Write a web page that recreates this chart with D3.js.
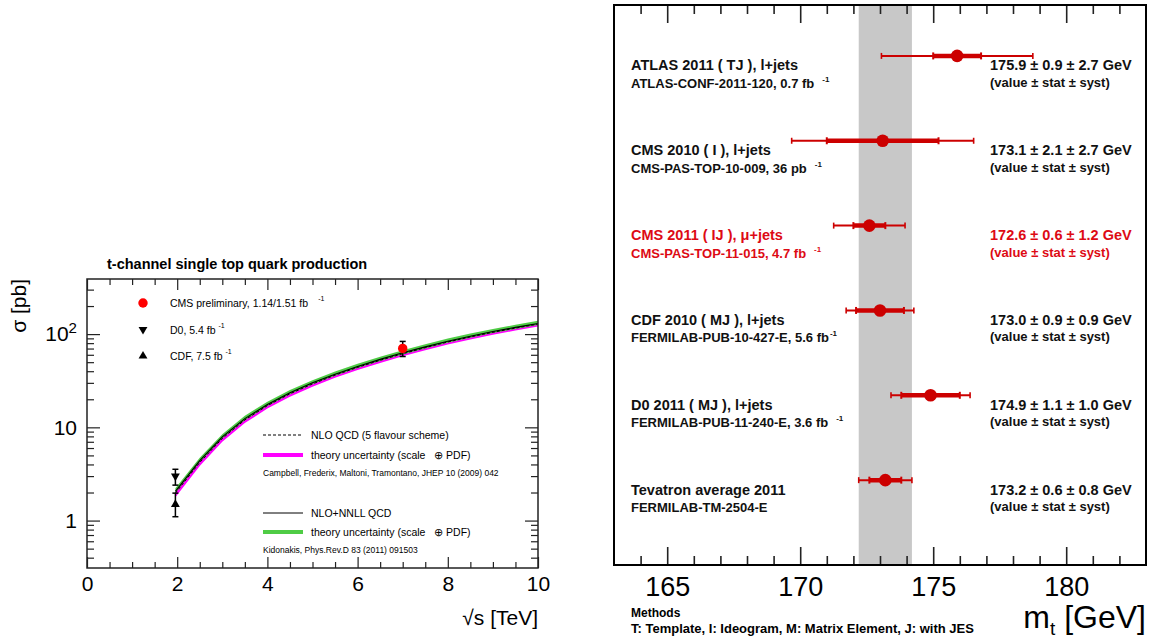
<!DOCTYPE html>
<html>
<head>
<meta charset="utf-8">
<script src="https://cdn.jsdelivr.net/npm/d3@7"></script>
<style>
body { margin: 0; background: #fff; }
text { font-family: "Liberation Sans", Arial, Helvetica, sans-serif; }
</style>
</head>
<body>
<div id="vis"></div>
<script>
// ---------- left panel data: t-channel single top cross section
const sqrtS  = [1.96, 2.5, 3, 3.5, 4, 4.5, 5, 5.5, 6, 6.5, 7, 7.5, 8, 8.5, 9, 9.5, 10];
const nnll   = [2.06, 4.4, 7.9, 12.4, 17.6, 23.5, 30.0, 37.2, 45.0, 53.6, 63.0, 73.0, 84.0, 95.0, 106.5, 118.0, 130.0];
const nnllLo = [1.97, 4.22, 7.6, 11.9, 16.9, 22.6, 28.9, 35.8, 43.3, 51.6, 60.6, 70.3, 80.9, 91.5, 102.6, 113.6, 125.2];
const nnllHi = [2.22, 4.72, 8.45, 13.3, 18.8, 25.1, 32.0, 39.7, 48.0, 57.2, 67.2, 77.9, 89.6, 101.3, 113.6, 125.9, 138.7];
const nlo    = [1.97, 4.2, 7.6, 12.0, 17.1, 22.9, 29.2, 36.3, 44.0, 52.4, 61.6, 71.6, 82.4, 93.3, 104.6, 116.0, 128.0];
const nloLo  = [1.78, 3.85, 7.0, 11.1, 15.9, 21.3, 27.3, 34.0, 41.2, 49.1, 57.8, 67.2, 77.4, 87.7, 98.4, 109.1, 120.4];
const nloHi  = [2.02, 4.32, 7.8, 12.3, 17.5, 23.5, 29.9, 37.2, 45.1, 53.7, 63.1, 73.4, 84.4, 95.6, 107.2, 118.9, 131.2];

const measNames = ["CMS preliminary, 1.14/1.51 fb", "D0, 5.4 fb", "CDF, 7.5 fb"];
const measSqrtS = [7.0, 1.96, 1.96];
const measSigma = [70.2, 3.0, 1.49];
const measLo    = [57.5, 2.4, 1.10];
const measHi    = [83.5, 3.55, 1.97];

const theoryLegend = [
	"NLO QCD (5 flavour scheme)",
	"theory uncertainty (scale   \u2295 PDF)",
	"Campbell, Frederix, Maltoni, Tramontano, JHEP 10 (2009) 042",
	"NLO+NNLL QCD",
	"theory uncertainty (scale   \u2295 PDF)",
	"Kidonakis, Phys.Rev.D 83 (2011) 091503"
];
const leftXTicks = [0, 2, 4, 6, 8, 10];
const leftYTicks = [1, 10, 100];

// ---------- right panel data: top mass measurements
const experiments = ["ATLAS 2011 ( TJ ), l+jets", "CMS 2010 ( I ), l+jets", "CMS 2011 ( IJ ), \u03bc+jets",
	"CDF 2010 ( MJ ), l+jets", "D0 2011 ( MJ ), l+jets", "Tevatron average 2011"];
const references = ["ATLAS-CONF-2011-120, 0.7 fb", "CMS-PAS-TOP-10-009, 36 pb", "CMS-PAS-TOP-11-015, 4.7 fb",
	"FERMILAB-PUB-10-427-E, 5.6 fb", "FERMILAB-PUB-11-240-E, 3.6 fb", "FERMILAB-TM-2504-E"];
const refSup   = ["-1", "-1", "-1", "-1", "-1", ""];
const refGap   = [1, 1, 1, 0, 1, 0];
const mass     = [175.9, 173.1, 172.6, 173.0, 174.9, 173.2];
const stat     = [0.9, 2.1, 0.6, 0.9, 1.1, 0.6];
const syst     = [2.7, 2.7, 1.2, 0.9, 1.0, 0.8];
const highlight = 2;
const rightXTicks = [165, 170, 175, 180];

const svg = d3.select('#vis')
	.append('svg')
		.attr('width', 1155)
		.attr('height', 642);

const fmt = d3.format('.1f');

// ================= left panel =================
const L = {left: 87, right: 538, top: 279, bottom: 568};
const xL = d3.scaleLinear().domain([0, 10]).range([L.left, L.right]);
const yL = d3.scaleLog().domain([0.31, 390]).range([L.bottom, L.top]);
const left = svg.append('g');

left.append('text')
	.attr('x', 107).attr('y', 269)
	.attr('font-size', 14.5).attr('font-weight', 'bold')
	.text('t-channel single top quark production');

const band = (lo, hi) => d3.area()
	.x((d, i) => xL(sqrtS[i]))
	.y0((d, i) => yL(lo[i]))
	.y1((d, i) => yL(hi[i]));
const curve = vals => d3.line()
	.x((d, i) => xL(sqrtS[i]))
	.y((d, i) => yL(vals[i]));

left.append('path').datum(sqrtS).attr('d', band(nloLo, nloHi)).attr('fill', '#ff00ff');
left.append('path').datum(sqrtS).attr('d', band(nnllLo, nnllHi)).attr('fill', '#4fcc45');
left.append('path').datum(sqrtS).attr('d', curve(nlo))
	.attr('fill', 'none').attr('stroke', '#000').attr('stroke-width', 1).attr('stroke-dasharray', '3,2');
left.append('path').datum(sqrtS).attr('d', curve(nnll))
	.attr('fill', 'none').attr('stroke', '#000').attr('stroke-width', 1.1);

// axes (ticks inside the frame, ROOT style)
const styleAxis = (g, size) => {
	g.select('.domain').remove();
	g.selectAll('line').attr('stroke', '#222').attr('stroke-width', 1.2);
	g.attr('font-family', null).attr('font-size', size || 10);
};
const xMinorL = d3.range(0, 10.01, 0.5).filter(v => v % 2 !== 0);
const yMinorL = [0.4, 0.5, 0.6, 0.7, 0.8, 0.9]
	.concat(d3.range(2, 10), d3.range(20, 100, 10), [200, 300]);

left.append('g').attr('transform', `translate(0,${L.bottom})`)
	.call(d3.axisBottom(xL).tickValues(leftXTicks).tickSize(-11).tickPadding(8).tickFormat(d3.format('d')))
	.call(styleAxis, 21);
left.append('g').attr('transform', `translate(0,${L.bottom})`)
	.call(d3.axisBottom(xL).tickValues(xMinorL).tickSize(-6).tickFormat(''))
	.call(styleAxis);
left.append('g').attr('transform', `translate(0,${L.top})`)
	.call(d3.axisTop(xL).tickValues(leftXTicks).tickSize(-11).tickFormat(''))
	.call(styleAxis);
left.append('g').attr('transform', `translate(0,${L.top})`)
	.call(d3.axisTop(xL).tickValues(xMinorL).tickSize(-6).tickFormat(''))
	.call(styleAxis);

left.append('g').attr('transform', `translate(${L.left},0)`)
	.call(d3.axisLeft(yL).tickValues(leftYTicks).tickSize(-13).tickPadding(10).tickFormat(d3.format('d')))
	.call(styleAxis, 21)
	.call(g => g.selectAll('text').each(function(d) {
		if (d === 100) {
			const t = d3.select(this).text('10');
			t.append('tspan').attr('dy', '-0.55em').attr('font-size', '0.72em').text('2');
		}
	}));
left.append('g').attr('transform', `translate(${L.left},0)`)
	.call(d3.axisLeft(yL).tickValues(yMinorL).tickSize(-7).tickFormat(''))
	.call(styleAxis);
left.append('g').attr('transform', `translate(${L.right},0)`)
	.call(d3.axisRight(yL).tickValues(leftYTicks).tickSize(-13).tickFormat(''))
	.call(styleAxis);
left.append('g').attr('transform', `translate(${L.right},0)`)
	.call(d3.axisRight(yL).tickValues(yMinorL).tickSize(-7).tickFormat(''))
	.call(styleAxis);

left.append('rect')
	.attr('x', L.left).attr('y', L.top)
	.attr('width', L.right - L.left).attr('height', L.bottom - L.top)
	.attr('fill', 'none').attr('stroke', '#222').attr('stroke-width', 1.5);

left.append('text')
	.attr('x', L.right).attr('y', 625)
	.attr('text-anchor', 'end').attr('font-size', 21)
	.text('\u221as [TeV]');
left.append('text')
	.attr('transform', `translate(26,${L.top}) rotate(-90)`)
	.attr('text-anchor', 'end').attr('font-size', 21)
	.text('\u03c3 [pb]');

// measurements
const markerPath = [
	d3.symbol().type(d3.symbolCircle).size(70)(),
	d3.symbol().type(d3.symbolTriangle).size(34)(),
	d3.symbol().type(d3.symbolTriangle).size(34)()
];
const markerRot = [0, 180, 0];
const markerCol = ['#ff0000', '#000', '#000'];

measSigma.forEach((s, i) => {
	const cx = xL(measSqrtS[i]);
	const g = left.append('g');
	g.append('line').attr('x1', cx).attr('x2', cx).attr('y1', yL(measLo[i])).attr('y2', yL(measHi[i]))
		.attr('stroke', '#000').attr('stroke-width', 1.5);
	[measLo[i], measHi[i]].forEach(v => {
		g.append('line').attr('x1', cx - 3).attr('x2', cx + 3).attr('y1', yL(v)).attr('y2', yL(v))
			.attr('stroke', '#000').attr('stroke-width', 1.5);
	});
	g.append('path').attr('d', markerPath[i])
		.attr('transform', `translate(${cx},${yL(s)}) rotate(${markerRot[i]})`)
		.attr('fill', markerCol[i]);
});

// legend for measurements
const legTopY = [303, 329.5, 356];
measNames.forEach((name, i) => {
	left.append('path').attr('d', markerPath[i])
		.attr('transform', `translate(143,${legTopY[i]}) rotate(${markerRot[i]})`)
		.attr('fill', markerCol[i]);
	const t = left.append('text').attr('x', 170).attr('y', legTopY[i] + 4)
		.attr('font-size', 10.5).style('white-space', 'pre').text(name);
	t.append('tspan').attr('dx', i === 0 ? 10 : 3).attr('dy', -6).attr('font-size', 7).text('-1');
});

// legend for theory
const legY = [435, 455, 473, 513, 532, 550];
const legSample = ['dash', '#ff00ff', null, 'solid', '#4fcc45', null];
theoryLegend.forEach((txt, i) => {
	const kind = legSample[i];
	if (kind === 'dash' || kind === 'solid') {
		left.append('line').attr('x1', 263).attr('x2', 303).attr('y1', legY[i]).attr('y2', legY[i])
			.attr('stroke', '#000').attr('stroke-width', 1)
			.attr('stroke-dasharray', kind === 'dash' ? '3,2' : null);
	} else if (kind) {
		left.append('line').attr('x1', 263).attr('x2', 303).attr('y1', legY[i]).attr('y2', legY[i])
			.attr('stroke', kind).attr('stroke-width', 4);
	}
	left.append('text')
		.attr('x', kind ? 311 : 263).attr('y', legY[i] + (kind ? 4 : 3))
		.attr('font-size', kind ? 10.5 : 8.5).style('white-space', 'pre')
		.text(txt);
});

// ================= right panel =================
const R = {left: 614, right: 1146, top: 5, bottom: 565};
const xR = d3.scaleLinear().domain([163, 183]).range([R.left, R.right]);
const yR = d3.scaleLinear().domain([0, 6.6]).range([R.bottom, R.top]);
const right = svg.append('g');

// world average band from Tevatron combination
const last = mass.length - 1;
const avgErr = Math.sqrt(stat[last] ** 2 + syst[last] ** 2);
right.append('rect')
	.attr('x', xR(mass[last] - avgErr)).attr('y', R.top)
	.attr('width', xR(mass[last] + avgErr) - xR(mass[last] - avgErr))
	.attr('height', R.bottom - R.top)
	.attr('fill', '#c8c8c8');

const xMinorR = d3.range(164, 183, 1).filter(v => v % 5 !== 0);
right.append('g').attr('transform', `translate(0,${R.bottom})`)
	.call(d3.axisBottom(xR).tickValues(rightXTicks).tickSize(-18).tickPadding(12).tickFormat(d3.format('d')))
	.call(styleAxis, 27);
right.append('g').attr('transform', `translate(0,${R.bottom})`)
	.call(d3.axisBottom(xR).tickValues(xMinorR).tickSize(-9).tickFormat(''))
	.call(styleAxis);
right.append('g').attr('transform', `translate(0,${R.top})`)
	.call(d3.axisTop(xR).tickValues(rightXTicks).tickSize(-18).tickFormat(''))
	.call(styleAxis);
right.append('g').attr('transform', `translate(0,${R.top})`)
	.call(d3.axisTop(xR).tickValues(xMinorR).tickSize(-9).tickFormat(''))
	.call(styleAxis);
right.selectAll('.tick line').attr('stroke-width', 1.6);

right.append('rect')
	.attr('x', R.left).attr('y', R.top)
	.attr('width', R.right - R.left).attr('height', R.bottom - R.top)
	.attr('fill', 'none').attr('stroke', '#000').attr('stroke-width', 2);

const darkRed = '#cc0000';
mass.forEach((m, i) => {
	const py = yR(6 - i);
	const tot = Math.sqrt(stat[i] ** 2 + syst[i] ** 2);
	const g = right.append('g');
	g.append('line').attr('x1', xR(m - tot)).attr('x2', xR(m + tot)).attr('y1', py).attr('y2', py)
		.attr('stroke', darkRed).attr('stroke-width', 2);
	[m - tot, m + tot].forEach(v => g.append('line')
		.attr('x1', xR(v)).attr('x2', xR(v)).attr('y1', py - 3).attr('y2', py + 3)
		.attr('stroke', darkRed).attr('stroke-width', 1.6));
	g.append('line').attr('x1', xR(m - stat[i])).attr('x2', xR(m + stat[i])).attr('y1', py).attr('y2', py)
		.attr('stroke', darkRed).attr('stroke-width', 4.5);
	[m - stat[i], m + stat[i]].forEach(v => g.append('line')
		.attr('x1', xR(v)).attr('x2', xR(v)).attr('y1', py - 3.5).attr('y2', py + 3.5)
		.attr('stroke', darkRed).attr('stroke-width', 2));
	g.append('circle').attr('cx', xR(m)).attr('cy', py).attr('r', 6.3).attr('fill', darkRed);

	const col = i === highlight ? '#dd0a14' : '#111';
	g.append('text').attr('x', R.left + 17).attr('y', py + 14.5)
		.attr('font-size', 14.5).attr('font-weight', 'bold').attr('fill', col)
		.text(experiments[i]);
	const r = g.append('text').attr('x', R.left + 17).attr('y', py + 32)
		.attr('font-size', 13).attr('font-weight', 'bold').attr('fill', col)
		.text(references[i]);
	if (refSup[i]) {
		r.append('tspan').attr('dx', refGap[i] ? 8 : 1).attr('dy', -6).attr('font-size', 8).text(refSup[i]);
	}
	g.append('text').attr('x', R.left + 376).attr('y', py + 14.5)
		.attr('font-size', 14.5).attr('font-weight', 'bold').attr('fill', col)
		.text(`${fmt(m)} \u00b1 ${fmt(stat[i])} \u00b1 ${fmt(syst[i])} GeV`);
	g.append('text').attr('x', R.left + 376).attr('y', py + 31)
		.attr('font-size', 13).attr('font-weight', 'bold').attr('fill', col)
		.text('(value \u00b1 stat \u00b1 syst)');
});

right.append('text').attr('x', R.left + 17).attr('y', 617)
	.attr('font-size', 12).attr('font-weight', 'bold').text('Methods');
right.append('text').attr('x', R.left + 17).attr('y', 632.5)
	.attr('font-size', 13).attr('font-weight', 'bold')
	.text('T: Template, I: Ideogram, M: Matrix Element, J: with JES');

const mt = right.append('text').attr('x', R.right).attr('y', 628)
	.attr('text-anchor', 'end').attr('font-size', 32);
mt.append('tspan').text('m');
mt.append('tspan').attr('dy', 7).attr('font-size', 19).text('t');
mt.append('tspan').attr('dy', -7).text(' [GeV]');
</script>
</body>
</html>
